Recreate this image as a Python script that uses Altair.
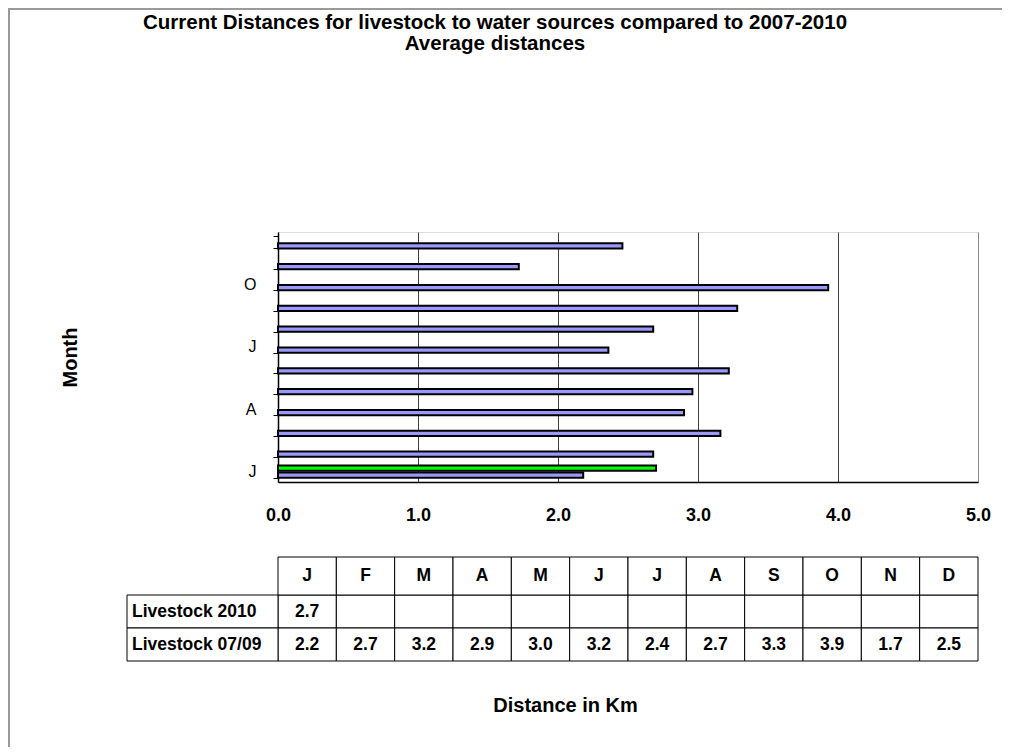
import json
import altair as alt
import pandas as pd

# ---------------- data ----------------
months = ["J", "F", "M", "A", "M", "J", "J", "A", "S", "O", "N", "D"]
month_idx = list(range(1, 13))
series = ["Livestock 2010", "Livestock 07/09"]
livestock_2010 = [2.70, None, None, None, None, None, None, None, None, None, None, None]
livestock_0709 = [2.18, 2.68, 3.16, 2.90, 2.96, 3.22, 2.36, 2.68, 3.28, 3.93, 1.72, 2.46]
x_ticks = [0, 1, 2, 3, 4, 5]
bar_colors = ["#00FF00", "#9999FF"]

title_lines = ["Current Distances for livestock to water sources compared to 2007-2010",
               "Average distances"]

FONT = "Liberation Sans"

# long table of values
recs = []
for i, m in enumerate(month_idx):
    recs.append({"m": m, "series": series[0], "value": livestock_2010[i]})
    recs.append({"m": m, "series": series[1], "value": livestock_0709[i]})
df = pd.DataFrame(recs)
bars_df = df.dropna(subset=["value"])
hdr_df = pd.DataFrame({"m": month_idx, "label": months, "hdr": ["hdr"] * 12})
lab_df = pd.DataFrame({"series": series, "col": ["lab"] * 2})
frame_df = pd.DataFrame({"k": [0]})

label_expr = "datum.value % 3 == 1 ? " + json.dumps(months) + "[datum.value - 1] : ''"

# ---------------- plot ----------------
bars = alt.Chart(bars_df).mark_bar(stroke="black", strokeWidth=2).encode(
    x=alt.X("value:Q",
            scale=alt.Scale(domain=[0, 5], nice=False),
            axis=alt.Axis(values=x_ticks, format=".1f", labelFontSize=18,
                          labelFontWeight="bold", labelFont=FONT, labelColor="black",
                          labelPadding=33, labelBaseline="middle", labelFlush=False,
                          ticks=False, domainColor="black", domainWidth=1.5,
                          grid=True,
                          gridColor={"condition": {"test": "datum.value == 5", "value": "#8a8a8a"},
                                     "value": "#404040"},
                          gridWidth=1,
                          title="Distance in Km", titleFont=FONT, titleFontSize=20,
                          titleFontWeight="bold", titleColor="black",
                          titleX=287, titleY=223, titleBaseline="middle", titleAlign="center")),
    y=alt.Y("m:O",
            scale=alt.Scale(domain=list(reversed(month_idx)), paddingInner=0.42, paddingOuter=0.21),
            axis=alt.Axis(labelExpr=label_expr, labelFontSize=16, labelFont=FONT,
                          labelColor="black", labelPadding=17, tickBand="extent", tickSize=5,
                          tickColor="black", domainColor="black", domainWidth=1.5, grid=False,
                          title="Month", titleFont=FONT, titleFontSize=20, titleFontWeight="bold",
                          titleColor="black", titleX=-208, titleY=125, titleBaseline="middle",
                          titleAlign="center", titleAngle=-90)),
    yOffset=alt.YOffset("series:N", scale=alt.Scale(domain=series, paddingInner=0.25)),
    color=alt.Color("series:N", scale=alt.Scale(domain=series, range=bar_colors), legend=None),
)

# ---------------- data table ----------------
TFS = 17.5
tx = alt.X("m:O", scale=alt.Scale(domain=month_idx, paddingInner=0, paddingOuter=0), axis=None)
ty = alt.Y("series:N", scale=alt.Scale(domain=series, range=[363, 429], paddingInner=0, paddingOuter=0),
           axis=None)

cells = alt.Chart(df).mark_rect(fill="white", stroke="black", strokeWidth=1).encode(x=tx, y=ty)
vals = alt.Chart(df).transform_filter("isValid(datum.value)").mark_text(
    font=FONT, fontSize=TFS, fontWeight="bold", color="black", baseline="middle", align="center"
).encode(x=tx, y=ty, text=alt.Text("value:Q", format=".1f"))

hy = alt.Y("hdr:N", scale=alt.Scale(domain=["hdr"], range=[325, 363], paddingInner=0, paddingOuter=0),
           axis=None)
hdr_cells = alt.Chart(hdr_df).mark_rect(fill="white", stroke="black", strokeWidth=1).encode(x=tx, y=hy)
hdr_text = alt.Chart(hdr_df).mark_text(
    font=FONT, fontSize=TFS, fontWeight="bold", color="black", baseline="middle", align="center"
).encode(x=tx, y=hy, text="label:N")

# row-label column, left of the plot area
lab_cells = alt.Chart(lab_df).mark_rect(fill="white", stroke="black", strokeWidth=1).encode(
    x=alt.X("col:N", scale=alt.Scale(domain=["lab"], range=[-151, 0], paddingInner=0, paddingOuter=0),
            axis=None),
    y=ty)
# text scale whose band centre falls on the column's left edge
lab_text = alt.Chart(lab_df).mark_text(
    font=FONT, fontSize=TFS, fontWeight="bold", color="black", baseline="middle", align="left", dx=5
).encode(x=alt.X("col:N", scale=alt.Scale(domain=["lab"], range=[-302, 0], paddingInner=0,
                                            paddingOuter=0), axis=None),
         y=ty, text="series:N")

# outer chart-area frame (decoration)
frame = alt.Chart(frame_df).mark_rect(fillOpacity=0, stroke="#9a9a9a", strokeWidth=2).encode(
    x=alt.value(-269), x2=alt.value(760), y=alt.value(-223), y2=alt.value(560)
)

chart = alt.layer(
    frame, bars, cells, vals, hdr_cells, hdr_text, lab_cells, lab_text
).resolve_scale(
    x="independent", y="independent"
).properties(
    width=700, height=250,
    autosize=alt.AutoSizeParams(type="none"),
    padding={"left": 270, "top": 224, "right": 24, "bottom": 265},
    title=alt.Title(text=title_lines, font=FONT, fontSize=20.5, fontWeight="bold", color="black",
                    anchor="middle", frame="group", dx=-133, offset=0, dy=66, baseline="bottom",
                    lineHeight=21),
).configure_view(
    stroke="#8a8a8a", strokeWidth=2
).configure(background="white")

chart.save("out.html", embed_options={"renderer": "svg", "actions": False})
